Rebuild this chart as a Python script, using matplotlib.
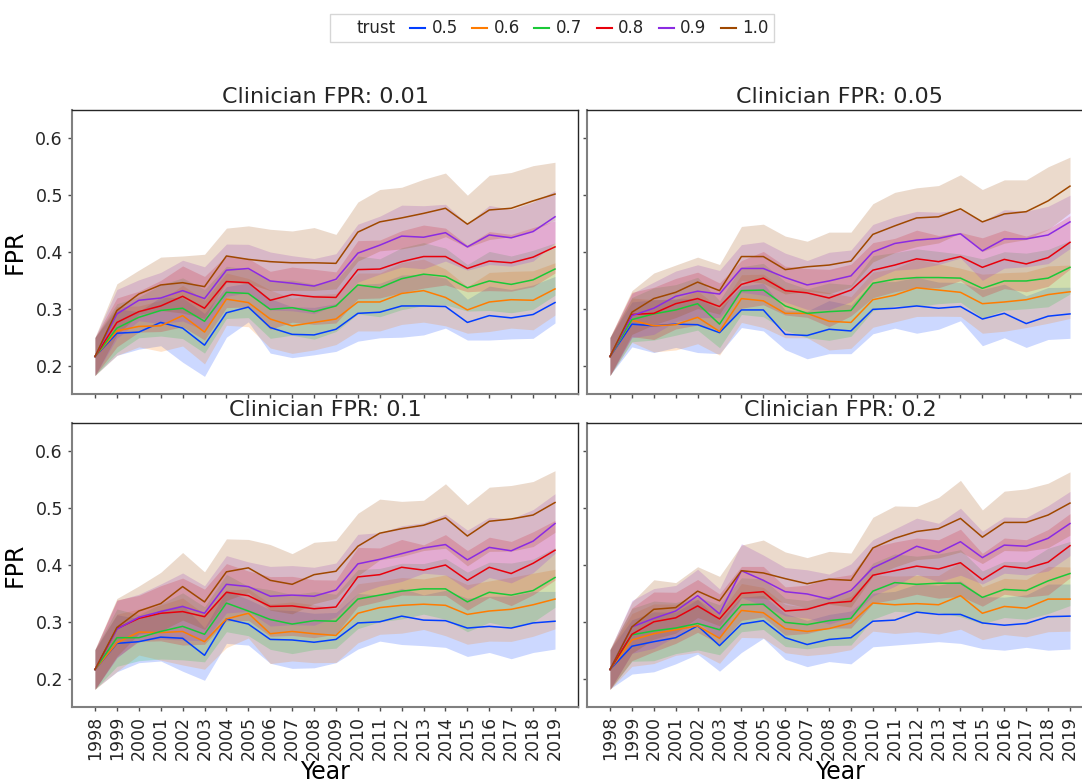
import numpy as np
import matplotlib
matplotlib.use('Agg')
import matplotlib.pyplot as plt
from matplotlib.lines import Line2D

plt.rcParams['font.family'] = ['DejaVu Sans']
plt.rcParams['text.color'] = '#262626'
plt.rcParams['xtick.color'] = '#262626'
plt.rcParams['ytick.color'] = '#262626'

years = list(range(1998, 2020))
trust_levels = ['0.5', '0.6', '0.7', '0.8', '0.9', '1.0']
colors = ['#023eff', '#ff7c00', '#1ac938', '#e8000b', '#8b2be2', '#9f4800']
titles = ['Clinician FPR: 0.01', 'Clinician FPR: 0.05', 'Clinician FPR: 0.1', 'Clinician FPR: 0.2']

# ---- Clinician FPR 0.01 ----
p1_05 = [0.216, 0.257, 0.259, 0.276, 0.266, 0.236, 0.293, 0.303, 0.267, 0.255, 0.254, 0.264, 0.292, 0.294, 0.305, 0.305, 0.304, 0.276, 0.288, 0.284, 0.290, 0.311]
p1_06 = [0.216, 0.261, 0.269, 0.270, 0.288, 0.259, 0.317, 0.311, 0.282, 0.270, 0.276, 0.282, 0.312, 0.312, 0.327, 0.332, 0.320, 0.298, 0.312, 0.316, 0.315, 0.335]
p1_07 = [0.216, 0.266, 0.285, 0.297, 0.301, 0.278, 0.329, 0.327, 0.299, 0.302, 0.295, 0.305, 0.342, 0.337, 0.353, 0.361, 0.357, 0.337, 0.349, 0.343, 0.351, 0.370]
p1_08 = [0.216, 0.276, 0.295, 0.305, 0.322, 0.301, 0.348, 0.346, 0.315, 0.325, 0.321, 0.320, 0.369, 0.370, 0.383, 0.392, 0.392, 0.371, 0.384, 0.381, 0.391, 0.409]
p1_09 = [0.216, 0.291, 0.315, 0.319, 0.332, 0.318, 0.368, 0.371, 0.349, 0.345, 0.340, 0.352, 0.398, 0.412, 0.428, 0.426, 0.434, 0.409, 0.430, 0.425, 0.436, 0.462]
p1_10 = [0.216, 0.297, 0.326, 0.342, 0.346, 0.339, 0.393, 0.387, 0.383, 0.381, 0.381, 0.380, 0.435, 0.453, 0.460, 0.468, 0.477, 0.449, 0.474, 0.477, 0.490, 0.502]
p1_upper = [0.250, 0.344, 0.368, 0.391, 0.393, 0.396, 0.442, 0.446, 0.440, 0.437, 0.443, 0.431, 0.488, 0.510, 0.514, 0.528, 0.539, 0.500, 0.535, 0.540, 0.552, 0.558]
p1_lower = [0.183, 0.218, 0.229, 0.235, 0.206, 0.181, 0.250, 0.277, 0.222, 0.214, 0.219, 0.225, 0.243, 0.249, 0.250, 0.254, 0.266, 0.245, 0.245, 0.247, 0.248, 0.275]

# ---- Clinician FPR 0.05 ----
p2_05 = [0.216, 0.273, 0.270, 0.273, 0.272, 0.258, 0.298, 0.298, 0.255, 0.253, 0.264, 0.261, 0.299, 0.301, 0.305, 0.301, 0.304, 0.282, 0.292, 0.274, 0.287, 0.291]
p2_06 = [0.216, 0.280, 0.270, 0.272, 0.285, 0.260, 0.318, 0.314, 0.292, 0.292, 0.278, 0.276, 0.316, 0.324, 0.337, 0.333, 0.329, 0.309, 0.312, 0.316, 0.325, 0.330]
p2_07 = [0.216, 0.281, 0.291, 0.298, 0.309, 0.273, 0.332, 0.333, 0.305, 0.292, 0.295, 0.297, 0.345, 0.352, 0.355, 0.355, 0.354, 0.336, 0.349, 0.349, 0.354, 0.373]
p2_08 = [0.216, 0.290, 0.292, 0.309, 0.318, 0.304, 0.343, 0.354, 0.332, 0.328, 0.319, 0.333, 0.368, 0.377, 0.388, 0.383, 0.392, 0.373, 0.387, 0.379, 0.390, 0.417]
p2_09 = [0.216, 0.288, 0.301, 0.322, 0.331, 0.326, 0.371, 0.371, 0.355, 0.342, 0.349, 0.358, 0.400, 0.415, 0.421, 0.424, 0.432, 0.402, 0.423, 0.423, 0.430, 0.453]
p2_10 = [0.216, 0.294, 0.318, 0.329, 0.347, 0.332, 0.392, 0.392, 0.369, 0.374, 0.377, 0.384, 0.431, 0.446, 0.460, 0.462, 0.476, 0.453, 0.467, 0.471, 0.490, 0.516]
p2_upper = [0.250, 0.332, 0.363, 0.377, 0.391, 0.378, 0.445, 0.449, 0.428, 0.419, 0.435, 0.435, 0.485, 0.505, 0.513, 0.517, 0.536, 0.510, 0.527, 0.527, 0.550, 0.567]
p2_lower = [0.183, 0.233, 0.223, 0.232, 0.223, 0.221, 0.267, 0.261, 0.228, 0.212, 0.221, 0.221, 0.256, 0.266, 0.257, 0.264, 0.279, 0.235, 0.249, 0.232, 0.246, 0.248]

# ---- Clinician FPR 0.1 ----
p3_05 = [0.216, 0.262, 0.265, 0.273, 0.271, 0.241, 0.305, 0.296, 0.269, 0.268, 0.264, 0.269, 0.298, 0.300, 0.310, 0.303, 0.302, 0.289, 0.292, 0.289, 0.298, 0.301]
p3_06 = [0.216, 0.263, 0.282, 0.281, 0.283, 0.265, 0.305, 0.315, 0.279, 0.283, 0.279, 0.276, 0.315, 0.325, 0.329, 0.331, 0.329, 0.313, 0.319, 0.322, 0.330, 0.340]
p3_07 = [0.216, 0.272, 0.272, 0.283, 0.292, 0.278, 0.333, 0.319, 0.304, 0.296, 0.302, 0.301, 0.340, 0.347, 0.354, 0.358, 0.358, 0.335, 0.352, 0.347, 0.355, 0.378]
p3_08 = [0.216, 0.288, 0.306, 0.315, 0.318, 0.309, 0.352, 0.346, 0.327, 0.328, 0.323, 0.326, 0.379, 0.383, 0.396, 0.391, 0.400, 0.373, 0.396, 0.385, 0.403, 0.426]
p3_09 = [0.216, 0.287, 0.308, 0.318, 0.327, 0.315, 0.366, 0.362, 0.345, 0.347, 0.345, 0.356, 0.402, 0.410, 0.420, 0.430, 0.436, 0.409, 0.431, 0.425, 0.442, 0.473]
p3_10 = [0.216, 0.290, 0.319, 0.332, 0.362, 0.335, 0.388, 0.395, 0.373, 0.366, 0.383, 0.389, 0.433, 0.456, 0.464, 0.470, 0.483, 0.451, 0.477, 0.481, 0.488, 0.510]
p3_upper = [0.252, 0.341, 0.363, 0.387, 0.422, 0.388, 0.446, 0.445, 0.436, 0.420, 0.440, 0.443, 0.491, 0.516, 0.512, 0.514, 0.543, 0.506, 0.537, 0.540, 0.547, 0.566]
p3_lower = [0.182, 0.212, 0.228, 0.231, 0.213, 0.197, 0.262, 0.259, 0.227, 0.218, 0.219, 0.228, 0.252, 0.266, 0.260, 0.258, 0.255, 0.239, 0.246, 0.235, 0.246, 0.252]

# ---- Clinician FPR 0.2 ----
p4_05 = [0.216, 0.257, 0.265, 0.272, 0.293, 0.258, 0.296, 0.302, 0.272, 0.260, 0.269, 0.272, 0.301, 0.303, 0.317, 0.313, 0.313, 0.298, 0.294, 0.297, 0.309, 0.310]
p4_06 = [0.216, 0.268, 0.279, 0.286, 0.293, 0.271, 0.320, 0.316, 0.288, 0.283, 0.288, 0.298, 0.333, 0.330, 0.332, 0.330, 0.346, 0.315, 0.327, 0.324, 0.340, 0.340]
p4_07 = [0.216, 0.277, 0.284, 0.289, 0.297, 0.286, 0.330, 0.331, 0.299, 0.295, 0.302, 0.306, 0.354, 0.369, 0.366, 0.368, 0.368, 0.343, 0.357, 0.355, 0.372, 0.385]
p4_08 = [0.216, 0.278, 0.300, 0.307, 0.328, 0.305, 0.350, 0.353, 0.319, 0.322, 0.333, 0.336, 0.382, 0.390, 0.398, 0.393, 0.404, 0.374, 0.398, 0.394, 0.405, 0.434]
p4_09 = [0.216, 0.291, 0.306, 0.319, 0.346, 0.314, 0.390, 0.373, 0.353, 0.349, 0.340, 0.355, 0.395, 0.413, 0.433, 0.422, 0.441, 0.413, 0.435, 0.433, 0.447, 0.473]
p4_10 = [0.216, 0.291, 0.322, 0.325, 0.354, 0.337, 0.390, 0.386, 0.376, 0.367, 0.375, 0.373, 0.430, 0.447, 0.459, 0.464, 0.482, 0.449, 0.475, 0.475, 0.488, 0.509]
p4_upper = [0.252, 0.335, 0.374, 0.369, 0.397, 0.380, 0.435, 0.444, 0.423, 0.413, 0.424, 0.421, 0.484, 0.504, 0.503, 0.519, 0.549, 0.497, 0.530, 0.534, 0.544, 0.564]
p4_lower = [0.182, 0.208, 0.212, 0.226, 0.243, 0.213, 0.246, 0.271, 0.234, 0.221, 0.230, 0.226, 0.256, 0.259, 0.262, 0.265, 0.262, 0.253, 0.250, 0.255, 0.250, 0.252]

panels = [
    ([p1_05, p1_06, p1_07, p1_08, p1_09, p1_10], p1_upper, p1_lower),
    ([p2_05, p2_06, p2_07, p2_08, p2_09, p2_10], p2_upper, p2_lower),
    ([p3_05, p3_06, p3_07, p3_08, p3_09, p3_10], p3_upper, p3_lower),
    ([p4_05, p4_06, p4_07, p4_08, p4_09, p4_10], p4_upper, p4_lower),
]

fig = plt.figure(figsize=(10.82, 7.84), dpi=100)
W, H = 1082, 784
# axes boxes in pixels: left, top, width, height
boxes = [(72, 110, 506, 284), (587, 110, 506, 284),
         (72, 423, 506, 284), (587, 423, 506, 284)]

axes = []
for i, (l, t, w, h) in enumerate(boxes):
    ax = fig.add_axes([l / W, 1 - (t + h) / H, w / W, h / H],
                      sharex=axes[0] if axes else None, sharey=axes[0] if axes else None)
    axes.append(ax)

for i, ax in enumerate(axes):
    means, upper, lower = panels[i]
    means = [np.array(m) for m in means]
    upper = np.array(upper)
    lower = np.array(lower)
    # typical half width of the interval, from the visible outer edges
    hw = ((upper - means[-1]) + (means[0] - lower)) / 2
    for k, m in enumerate(means):
        lo = m - hw
        hi = m + hw
        if k == 0:
            lo = lower
        if k == len(means) - 1:
            hi = upper
        ax.fill_between(years, lo, hi, color=colors[k], alpha=0.2, linewidth=0)
        ax.plot(years, m, color=colors[k], lw=1.1)

    ax.set_title(titles[i], fontsize=16, pad=5)
    ax.set_ylim(0.15, 0.65)
    ax.set_xticks(years)
    ax.set_yticks([0.2, 0.3, 0.4, 0.5, 0.6])
    ax.tick_params(labelsize=12.5, length=3, width=1, color='0.3')
    for s in ['left', 'bottom']:
        ax.spines[s].set_color('0.5')
        ax.spines[s].set_linewidth(1.5)
    for s in ['top', 'right']:
        ax.spines[s].set_color('0.15')
        ax.spines[s].set_linewidth(1.0)
    if i < 2:
        ax.tick_params(labelbottom=False)
    else:
        ax.set_xticklabels([str(y) for y in years], rotation=90)
        ax.set_xlabel('Year', fontsize=17, labelpad=0)
    if i % 2 == 1:
        ax.tick_params(labelleft=False)
    else:
        ax.set_ylabel('FPR', fontsize=17, labelpad=6)

axes[0].set_xlim(1998 - 1.05, 2019 + 1.05)

handles = [Line2D([], [], color='none')]
handles += [Line2D([], [], color=c, lw=1.5) for c in colors]
labels = ['trust'] + trust_levels
fig.legend(handles, labels, loc='upper center', bbox_to_anchor=(552 / W, 1 - 6 / H),
           ncol=7, fontsize=12, frameon=True, fancybox=False, edgecolor='0.8',
           handlelength=0.9, handletextpad=0.4, columnspacing=0.85, borderpad=0.3)

fig.savefig('out.png', dpi=100)
